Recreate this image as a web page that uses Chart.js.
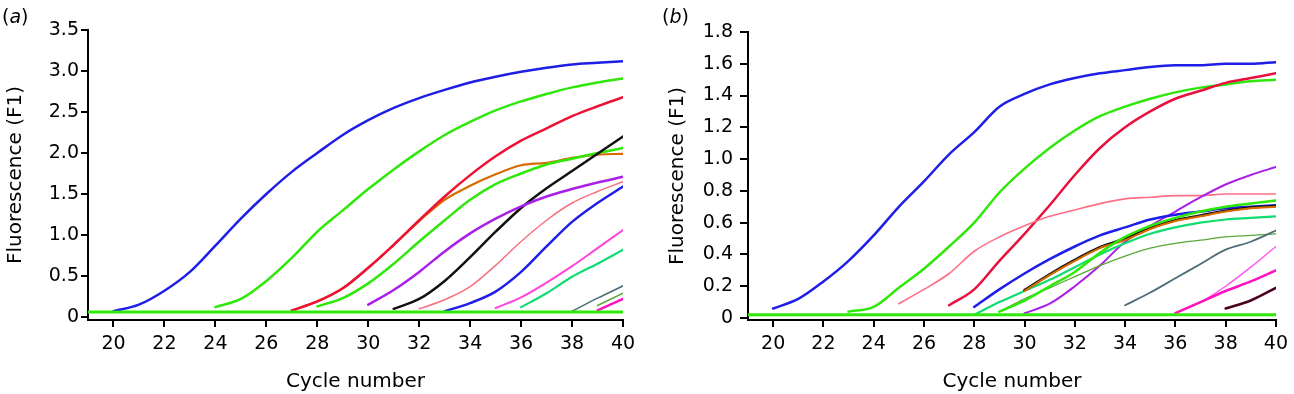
<!DOCTYPE html>
<html>
<head>
<meta charset="utf-8">
<script src="https://cdn.jsdelivr.net/npm/chart.js@4"></script>
<style>
  body { margin: 0; background: #fff; }
  #wrap { position: relative; width: 1294px; height: 394px; }
  canvas { position: absolute; top: 0; }
  .tag { position: absolute; top: 7px; font-family: 'DejaVu Sans'; font-size: 19px; line-height: 1; color: #000; }
</style>
</head>
<body>
<div id="wrap">
  <canvas id="chartA" width="648" height="394" style="left:0px"></canvas>
  <canvas id="chartB" width="634" height="394" style="left:660px"></canvas>
  <div class="tag" style="left:2px">(<i>a</i>)</div>
  <div class="tag" style="left:662px">(<i>b</i>)</div>
</div>
<script>
// tick labels
var xTicks = [20, 22, 24, 26, 28, 30, 32, 34, 36, 38, 40];
var yTicksA = [0, 0.5, 1.0, 1.5, 2.0, 2.5, 3.0, 3.5];
var yTicksB = [0, 0.2, 0.4, 0.6, 0.8, 1.0, 1.2, 1.4, 1.6, 1.8];

// panel (a) curves: first cycle, then fluorescence at each cycle up to 40
var baseCycles = [19, 40];
var aBase = [0.06, 0.06];
var aBlue1Start = 20, aBlue1 = [0.07, 0.15, 0.32, 0.55, 0.87, 1.2, 1.5, 1.77, 2.0, 2.22, 2.4, 2.55, 2.67, 2.77, 2.86, 2.93, 2.99, 3.04, 3.08, 3.1, 3.12];
var aGreen1Start = 24, aGreen1 = [0.12, 0.22, 0.44, 0.72, 1.04, 1.3, 1.56, 1.8, 2.02, 2.22, 2.38, 2.52, 2.63, 2.72, 2.8, 2.86, 2.91];
var aRedStart = 27, aRed = [0.08, 0.19, 0.35, 0.6, 0.88, 1.18, 1.47, 1.73, 1.96, 2.15, 2.3, 2.45, 2.57, 2.68];
var aOrangeStart = 27, aOrange = [0.08, 0.19, 0.35, 0.6, 0.88, 1.17, 1.43, 1.6, 1.74, 1.85, 1.88, 1.94, 1.98, 1.99];
var aGreen2Start = 28, aGreen2 = [0.13, 0.23, 0.41, 0.65, 0.92, 1.18, 1.43, 1.62, 1.75, 1.86, 1.93, 2.0, 2.06];
var aBlackStart = 31, aBlack = [0.1, 0.22, 0.44, 0.73, 1.04, 1.33, 1.57, 1.78, 1.99, 2.2];
var aPurpleStart = 30, aPurple = [0.15, 0.33, 0.55, 0.8, 1.02, 1.2, 1.35, 1.47, 1.56, 1.64, 1.71];
var aSalmonStart = 32, aSalmon = [0.1, 0.21, 0.37, 0.63, 0.92, 1.18, 1.39, 1.53, 1.65];
var aBlue2Start = 33, aBlue2 = [0.07, 0.17, 0.31, 0.55, 0.86, 1.16, 1.39, 1.59];
var aMagentaStart = 35, aMagenta = [0.11, 0.24, 0.42, 0.62, 0.84, 1.06];
var aSeaStart = 36, aSea = [0.12, 0.29, 0.49, 0.65, 0.82];
var aSlateStart = 38, aSlate = [0.07, 0.23, 0.38];
var aOliveStart = 39, aOlive = [0.14, 0.29];
var aPinkStart = 39, aPink = [0.08, 0.22];

// panel (b) curves
var bBase = [0.02, 0.02];
var bBlue1Start = 20, bBlue1 = [0.06, 0.12, 0.23, 0.36, 0.52, 0.7, 0.86, 1.03, 1.17, 1.33, 1.41, 1.47, 1.51, 1.54, 1.56, 1.58, 1.59, 1.59, 1.6, 1.6, 1.61];
var bGreen1Start = 23, bGreen1 = [0.04, 0.07, 0.19, 0.31, 0.45, 0.6, 0.79, 0.94, 1.07, 1.18, 1.27, 1.33, 1.38, 1.42, 1.45, 1.47, 1.49, 1.5];
var bRedStart = 27, bRed = [0.08, 0.18, 0.36, 0.53, 0.71, 0.9, 1.07, 1.2, 1.3, 1.38, 1.43, 1.48, 1.51, 1.54];
var bSalmonStart = 25, bSalmon = [0.09, 0.18, 0.28, 0.42, 0.51, 0.58, 0.64, 0.68, 0.72, 0.75, 0.76, 0.77, 0.77, 0.78, 0.78, 0.78];
var bPurpleStart = 30, bPurple = [0.03, 0.09, 0.2, 0.33, 0.48, 0.58, 0.67, 0.76, 0.84, 0.9, 0.95];
var bBlue2Start = 28, bBlue2 = [0.07, 0.18, 0.28, 0.37, 0.45, 0.52, 0.57, 0.62, 0.65, 0.67, 0.69, 0.7, 0.71];
var bOrangeStart = 30, bOrange = [0.17, 0.27, 0.36, 0.44, 0.49, 0.56, 0.61, 0.64, 0.67, 0.69, 0.7];
var bBlackStart = 30, bBlack = [0.175, 0.275, 0.365, 0.445, 0.5, 0.565, 0.615, 0.645, 0.675, 0.695, 0.705];
var bGreen2Start = 29, bGreen2 = [0.04, 0.11, 0.2, 0.29, 0.41, 0.51, 0.58, 0.63, 0.67, 0.7, 0.72, 0.74];
var bSeaStart = 28, bSea = [0.02, 0.1, 0.17, 0.24, 0.32, 0.4, 0.47, 0.53, 0.57, 0.6, 0.62, 0.63, 0.64];
var bOliveStart = 29, bOlive = [0.04, 0.12, 0.19, 0.26, 0.33, 0.39, 0.44, 0.47, 0.49, 0.51, 0.52, 0.53];
var bSlateStart = 34, bSlate = [0.08, 0.16, 0.25, 0.34, 0.43, 0.48, 0.55];
var bMagentaStart = 36, bMagenta = [0.03, 0.1, 0.2, 0.32, 0.45];
var bPinkStart = 36, bPink = [0.03, 0.1, 0.17, 0.23, 0.3];
var bMaroonStart = 38, bMaroon = [0.06, 0.11, 0.19];

Chart.defaults.font.family = 'DejaVu Sans';
Chart.defaults.color = '#000';

function curve(start, values, color, width) {
    return {
        data: values.map(function (v, i) { return { x: start + i, y: v }; }),
        borderColor: color,
        borderWidth: width
    };
}

function baseline(values, color) {
    return {
        data: values.map(function (v, i) { return { x: baseCycles[i], y: v }; }),
        borderColor: color,
        borderWidth: 3
    };
}

function makeOptions(yMin, yMax, yTicks, labelPad, tickLen, titlePad, padTop, padRight) {
    return {
        responsive: false,
        animation: false,
        layout: { padding: { top: padTop, right: padRight, bottom: 0, left: 0 } },
        plugins: { legend: { display: false }, tooltip: { enabled: false } },
        elements: {
            point: { radius: 0 },
            line: { fill: false, cubicInterpolationMode: 'monotone', borderCapStyle: 'round' }
        },
        scales: {
            x: {
                type: 'linear', min: 19, max: 40,
                afterBuildTicks: function (s) { s.ticks = xTicks.map(function (v) { return { value: v }; }); },
                afterFit: function (s) { s.height = 74; },
                border: { color: '#000', width: 2 },
                grid: { drawOnChartArea: false, color: '#000', lineWidth: 2, tickLength: 7 },
                ticks: { font: { size: 19 }, padding: 6, maxRotation: 0, autoSkip: false },
                title: { display: true, text: 'Cycle number', font: { size: 20 }, padding: { top: 0, bottom: 0 } }
            },
            y: {
                min: yMin, max: yMax,
                afterBuildTicks: function (s) { s.ticks = yTicks.map(function (v) { return { value: v }; }); },
                afterFit: function (s) { s.width = 88; },
                border: { color: '#000', width: 2 },
                grid: { drawOnChartArea: false, color: '#000', lineWidth: 2, tickLength: tickLen },
                ticks: {
                    font: { size: 19 }, padding: labelPad,
                    callback: function (v) { return v === 0 ? '0' : v.toFixed(1); }
                },
                title: { display: true, text: 'Fluorescence (F1)', font: { size: 20 }, padding: { top: titlePad, bottom: 0 } }
            }
        }
    };
}

var chartA = new Chart(document.getElementById('chartA'), {
    type: 'line',
    data: {
        datasets: [
            baseline(aBase, '#2ee80a'),
            curve(aPinkStart, aPink, '#ff10c0', 2.5),
            curve(aOliveStart, aOlive, '#5aa83a', 1.5),
            curve(aSlateStart, aSlate, '#4f6d78', 1.6),
            curve(aSeaStart, aSea, '#10dd70', 2.2),
            curve(aMagentaStart, aMagenta, '#ff44dd', 2),
            curve(aBlue2Start, aBlue2, '#1e1ee6', 2.5),
            curve(aSalmonStart, aSalmon, '#f8707f', 1.5),
            curve(aPurpleStart, aPurple, '#aa1fe8', 2.5),
            curve(aBlackStart, aBlack, '#111111', 2.5),
            curve(aGreen2Start, aGreen2, '#2ee80a', 2.5),
            curve(aRedStart, aRed, '#ee1133', 2.5),
            curve(aOrangeStart, aOrange, '#d86a00', 2.2),
            curve(aGreen1Start, aGreen1, '#2ee80a', 2.5),
            curve(aBlue1Start, aBlue1, '#1e1ee6', 2.5)
        ]
    },
    options: makeOptions(-0.0366, 3.5, yTicksA, 2, 7, 4, 30, 25)
});

var chartB = new Chart(document.getElementById('chartB'), {
    type: 'line',
    data: {
        datasets: [
            baseline(bBase, '#2ee80a'),
            curve(bMaroonStart, bMaroon, '#4a0020', 2.5),
            curve(bPinkStart, bPink, '#ff10c0', 2.5),
            curve(bMagentaStart, bMagenta, '#ff55ee', 1.4),
            curve(bSlateStart, bSlate, '#4f6d78', 1.8),
            curve(bGreen2Start, bGreen2, '#2ee80a', 2.5),
            curve(bOrangeStart, bOrange, '#d86a00', 2),
            curve(bBlackStart, bBlack, '#111111', 2.6),
            curve(bSeaStart, bSea, '#10dd70', 2.2),
            curve(bOliveStart, bOlive, '#5aa83a', 1.3),
            curve(bBlue2Start, bBlue2, '#1e1ee6', 2.5),
            curve(bPurpleStart, bPurple, '#aa1fe8', 2),
            curve(bSalmonStart, bSalmon, '#ff6f85', 1.6),
            curve(bRedStart, bRed, '#e8103c', 2.5),
            curve(bGreen1Start, bGreen1, '#2ee80a', 2.5),
            curve(bBlue1Start, bBlue1, '#1e1ee6', 2.5)
        ]
    },
    options: makeOptions(-0.0126, 1.8, yTicksB, 7, 8, 6, 32, 13)
});
</script>
</body>
</html>
